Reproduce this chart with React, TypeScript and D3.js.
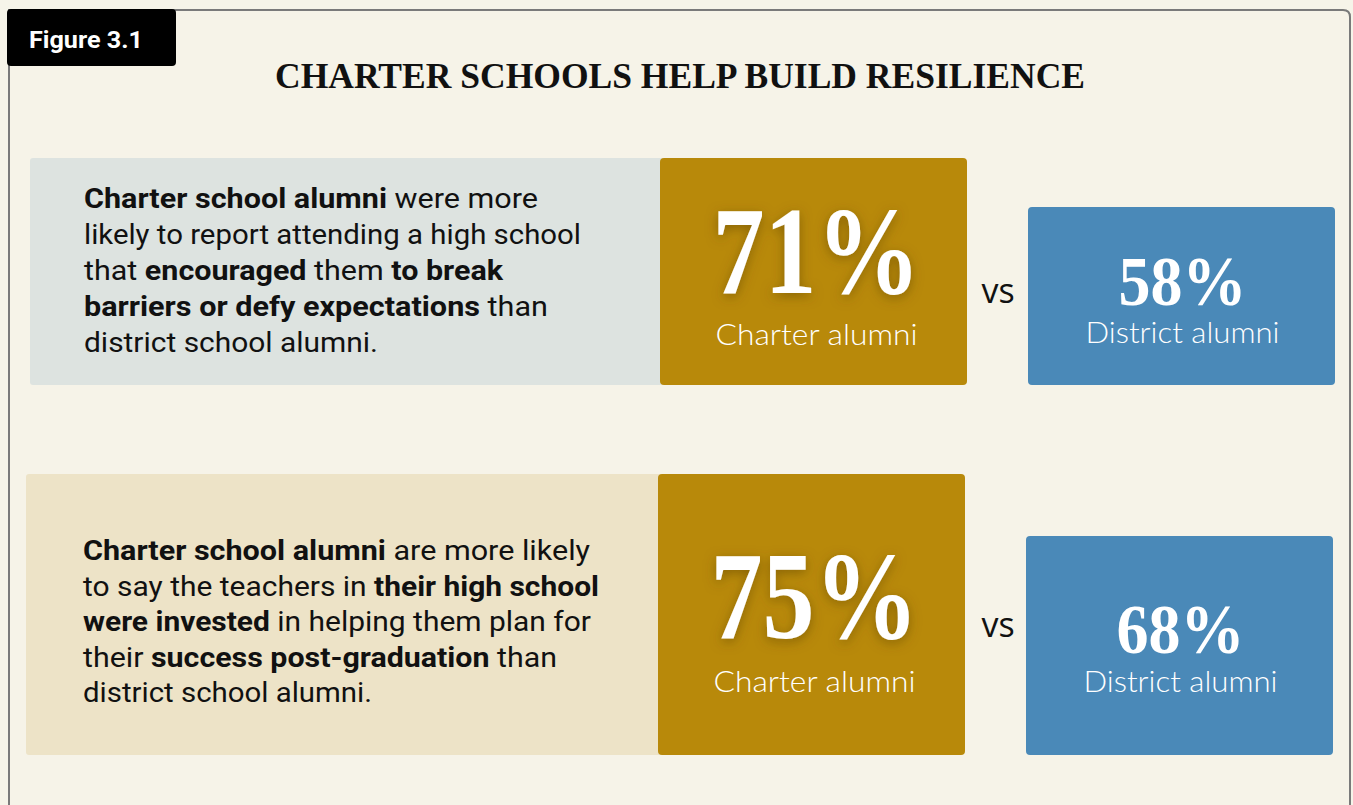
import React from "react";
import * as d3 from "d3";

// ---- data ----
const figureLabel = "Figure 3.1";
const title = "CHARTER SCHOOLS HELP BUILD RESILIENCE";
const rowKeys = ["breakBarriers", "investedTeachers"];
const charterValues = [71, 75];
const districtValues = [58, 68];
const charterLabel = "Charter alumni";
const districtLabel = "District alumni";
const vsLabel = "vs";
// each line: segments of [text, bold]
const descriptionLines: [string, boolean][][][] = [
  [
    [["Charter school alumni", true], [" were more", false]],
    [["likely to report attending a high school", false]],
    [["that ", false], ["encouraged", true], [" them ", false], ["to break", true]],
    [["barriers or defy expectations", true], [" than", false]],
    [["district school alumni.", false]],
  ],
  [
    [["Charter school alumni", true], [" are more likely", false]],
    [["to say the teachers in ", false], ["their high school", true]],
    [["were invested", true], [" in helping them plan for", false]],
    [["their ", false], ["success post-graduation", true], [" than", false]],
    [["district school alumni.", false]],
  ],
];

// ---- layout ----
const W = 1353;
const H = 805;
const rowTop = [158, 474];
const rowBottom = [385, 755];
const blueTop = [207, 536];
const textBoxX = [30, 26];
const goldX = [660, 658];
const blueX = [1028, 1026];
const boxW = 307;
const textBoxFill = ["#dde3e0", "#ede3c7"];
const firstBaseline = [208, 560];
const lineStep = [36, 35.6];
const lineWidths = [
  [454, 497, 419, 464, 294],
  [507, 516, 508, 474, 289],
];

const pct = (v: number) => d3.format(".0%")(v / 100);

export default function App() {
  const y = d3.scaleOrdinal<string, number>().domain(rowKeys).range(rowTop);
  return (
    <div style={{ position: "absolute", left: 0, top: 0, width: W, height: H, background: "#f6f4e9" }}>
      <svg width={W} height={H} style={{ display: "block" }}>
        <defs>
          <filter id="glow" x="-30%" y="-30%" width="160%" height="160%">
            <feDropShadow dx="0" dy="3" stdDeviation="6" floodColor="#5e4500" floodOpacity="0.55" />
          </filter>
        </defs>
        <rect x={0} y={0} width={W} height={H} fill="#f6f4e9" />
        <path
          d={`M9,${H + 10} L9,10 L1343,10 Q1350,10 1350,17 L1350,${H + 10}`}
          fill="#f6f3e8"
          stroke="#7a7a7a"
          strokeWidth={2}
        />
        <rect x={7} y={9} width={169} height={57} rx={4} fill="#000" />
        <text
          x={29}
          y={48}
          fill="#fff"
          fontFamily="Roboto, 'Noto Sans', sans-serif"
          fontWeight={700}
          fontSize={24}
          textLength={114}
          lengthAdjust="spacingAndGlyphs"
        >
          {figureLabel}
        </text>
        <text
          x={275}
          y={88}
          fill="#111"
          fontFamily="'Liberation Serif', 'DejaVu Serif', serif"
          fontWeight={700}
          fontSize={35}
          textLength={810}
          lengthAdjust="spacingAndGlyphs"
        >
          {title}
        </text>

        {rowKeys.map((k, i) => {
          const top = y(k);
          const bottom = rowBottom[i];
          const gx = goldX[i];
          const bx = blueX[i];
          const gcx = gx + boxW / 2 + 3;
          const bcx = bx + boxW / 2 + 1;
          return (
            <g key={k}>
              <rect x={textBoxX[i]} y={top} width={gx - textBoxX[i] + 4} height={bottom - top} rx={3} fill={textBoxFill[i]} />
              <rect x={gx} y={top} width={boxW} height={bottom - top} rx={4} fill="#b8890a" />
              <rect x={bx} y={blueTop[i]} width={boxW} height={bottom - blueTop[i]} rx={4} fill="#4a89b8" />
              {descriptionLines[i].map((line, j) => (
                <text
                  key={j}
                  x={textBoxX[i] === 30 ? 84 : 83}
                  y={firstBaseline[i] + j * lineStep[i]}
                  fill="#111"
                  fontFamily="Roboto, 'Liberation Sans', sans-serif"
                  fontSize={27}
                  textLength={lineWidths[i][j]}
                  lengthAdjust="spacingAndGlyphs"
                >
                  {line.map(([t, b], m) => (
                    <tspan key={m} fontWeight={b ? 700 : 400}>
                      {t}
                    </tspan>
                  ))}
                </text>
              ))}
              <text
                x={gcx}
                y={i === 0 ? 293 : 638}
                textAnchor="middle"
                fill="#fff"
                fontFamily="'Liberation Serif', 'DejaVu Serif', serif"
                fontWeight={700}
                fontSize={124}
                textLength={208}
                lengthAdjust="spacingAndGlyphs"
                filter="url(#glow)"
              >
                {pct(charterValues[i])}
              </text>
              <text
                x={gcx}
                y={i === 0 ? 345 : 692}
                textAnchor="middle"
                fill="#fff"
                fontFamily="Lato, 'Open Sans', sans-serif"
                fontWeight={300}
                fontSize={30}
                textLength={202}
                lengthAdjust="spacingAndGlyphs"
              >
                {charterLabel}
              </text>
              <text
                x={998}
                y={i === 0 ? 303 : 637}
                textAnchor="middle"
                fill="#111"
                fontFamily="'Open Sans', 'Noto Sans', sans-serif"
                fontSize={34}
              >
                {vsLabel}
              </text>
              <text
                x={bcx}
                y={i === 0 ? 305 : 653}
                textAnchor="middle"
                fill="#fff"
                fontFamily="'Liberation Serif', 'DejaVu Serif', serif"
                fontWeight={700}
                fontSize={70}
                textLength={128}
                lengthAdjust="spacingAndGlyphs"
              >
                {pct(districtValues[i])}
              </text>
              <text
                x={bcx}
                y={i === 0 ? 343 : 692}
                textAnchor="middle"
                fill="#fff"
                fontFamily="Lato, 'Open Sans', sans-serif"
                fontWeight={300}
                fontSize={30}
                textLength={194}
                lengthAdjust="spacingAndGlyphs"
              >
                {districtLabel}
              </text>
            </g>
          );
        })}
      </svg>
    </div>
  );
}
